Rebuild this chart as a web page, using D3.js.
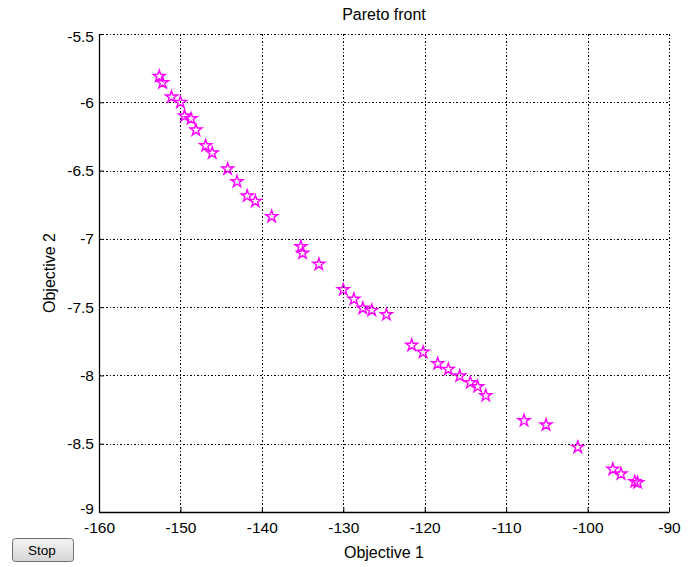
<!DOCTYPE html>
<html>
<head>
<meta charset="utf-8">
<script src="https://cdn.jsdelivr.net/npm/d3@7"></script>
<style>
  body { margin: 0; background: #fff; }
  svg { display: block; font-family: "Liberation Sans", Arial, sans-serif; }
</style>
</head>
<body>
<svg id="chart" width="694" height="567"></svg>
<script>
// Pareto front points
const objective1 = [
  -152.6, -152.2, -151.1, -150.0, -149.5, -148.7, -148.1, -146.9, -146.1, -144.2,
  -143.05, -141.8, -140.8, -138.8, -135.2, -135.0, -133.0, -130.0, -128.7, -127.6,
  -126.5, -124.7, -121.6, -120.2, -118.4, -117.1, -115.7, -114.4, -113.5, -112.5,
  -107.8, -105.1, -101.2, -96.9, -95.9, -94.2, -93.85
];
const objective2 = [
  -5.81, -5.857, -5.961, -6.0, -6.10, -6.12, -6.203, -6.318, -6.371, -6.488,
  -6.581, -6.686, -6.725, -6.837, -7.057, -7.105, -7.186, -7.372, -7.442, -7.508,
  -7.523, -7.555, -7.779, -7.830, -7.914, -7.955, -8.004, -8.053, -8.082, -8.148,
  -8.331, -8.362, -8.526, -8.687, -8.721, -8.778, -8.785
];
const xTicks = [-160, -150, -140, -130, -120, -110, -100, -90];
const yTicks = [-5.5, -6, -6.5, -7, -7.5, -8, -8.5, -9];

const width = 694, height = 567;
const margin = { top: 34, right: 25, bottom: 55, left: 99 };

const svg = d3.select("#chart");

const x = d3.scaleLinear().domain([-160, -90]).range([margin.left, width - margin.right]);
const y = d3.scaleLinear().domain([-9, -5.5]).range([height - margin.bottom, margin.top]);

// dotted grid
const grid = svg.append("g")
  .attr("stroke", "#000")
  .attr("stroke-width", 1)
  .attr("stroke-dasharray", "1.5,2")
  .attr("shape-rendering", "crispEdges");

grid.selectAll(".vgrid")
  .data(xTicks)
  .enter().append("line")
  .attr("x1", d => Math.round(x(d)) + 0.5)
  .attr("x2", d => Math.round(x(d)) + 0.5)
  .attr("y1", margin.top)
  .attr("y2", height - margin.bottom);

grid.selectAll(".hgrid")
  .data(yTicks)
  .enter().append("line")
  .attr("y1", d => Math.round(y(d)) + 0.5)
  .attr("y2", d => Math.round(y(d)) + 0.5)
  .attr("x1", margin.left)
  .attr("x2", width - margin.right);

// axes, ticks pointing inward, plain hyphen minus like matlab
const plain = d => String(d);

const xAxis = svg.append("g")
  .attr("transform", `translate(0,${height - margin.bottom})`)
  .call(d3.axisBottom(x).tickValues(xTicks).tickSizeInner(-5).tickSizeOuter(0).tickPadding(10)
    .tickFormat(plain));

const yAxis = svg.append("g")
  .attr("transform", `translate(${margin.left},0)`)
  .call(d3.axisLeft(y).tickValues(yTicks).tickSizeInner(-5).tickSizeOuter(0).tickPadding(5)
    .tickFormat(plain));

[xAxis, yAxis].forEach(g => {
  g.select(".domain").attr("stroke", "#000").attr("stroke-width", 1.3);
  g.selectAll(".tick line").attr("stroke", "#000");
  g.selectAll(".tick text")
    .attr("fill", "#000")
    .style("font-size", "15.5px")
    .style("font-family", "'Liberation Sans', Arial, sans-serif");
});

yAxis.selectAll(".tick").filter(d => d === -5.5).select("text").attr("dy", "0.5em");
// -9 sits just above the x labels
yAxis.selectAll(".tick").filter(d => d === -9).select("text").attr("dy", "0.08em");

// pentagram markers
const star = d3.symbol().type(d3.symbolStar).size(44);
svg.append("g")
  .selectAll("path")
  .data(d3.range(objective1.length))
  .enter().append("path")
  .attr("transform", i => `translate(${x(objective1[i])},${y(objective2[i])})`)
  .attr("d", star)
  .attr("fill", "none")
  .attr("stroke", "#ff00ff")
  .attr("stroke-width", 1.4);

// labels
svg.append("text")
  .attr("x", (margin.left + width - margin.right) / 2)
  .attr("y", 20)
  .attr("text-anchor", "middle")
  .style("font-size", "16px")
  .text("Pareto front");

svg.append("text")
  .attr("x", (margin.left + width - margin.right) / 2)
  .attr("y", 558)
  .attr("text-anchor", "middle")
  .style("font-size", "16px")
  .text("Objective 1");

svg.append("text")
  .attr("transform", `translate(55,${(margin.top + height - margin.bottom) / 2}) rotate(-90)`)
  .attr("text-anchor", "middle")
  .style("font-size", "16px")
  .text("Objective 2");

// Stop button
const grad = svg.append("defs").append("linearGradient")
  .attr("id", "btn").attr("x1", 0).attr("y1", 0).attr("x2", 0).attr("y2", 1);
grad.append("stop").attr("offset", "0%").attr("stop-color", "#f2f2f2");
grad.append("stop").attr("offset", "50%").attr("stop-color", "#e6e6e6");
grad.append("stop").attr("offset", "100%").attr("stop-color", "#d4d4d4");

svg.append("rect")
  .attr("x", 12.5).attr("y", 538.5)
  .attr("width", 61).attr("height", 23)
  .attr("rx", 3)
  .attr("fill", "url(#btn)")
  .attr("stroke", "#707070");

svg.append("text")
  .attr("x", 42)
  .attr("y", 555)
  .attr("text-anchor", "middle")
  .style("font-family", "'Liberation Sans', Arial, sans-serif")
  .style("font-size", "13.5px")
  .text("Stop");
</script>
</body>
</html>
